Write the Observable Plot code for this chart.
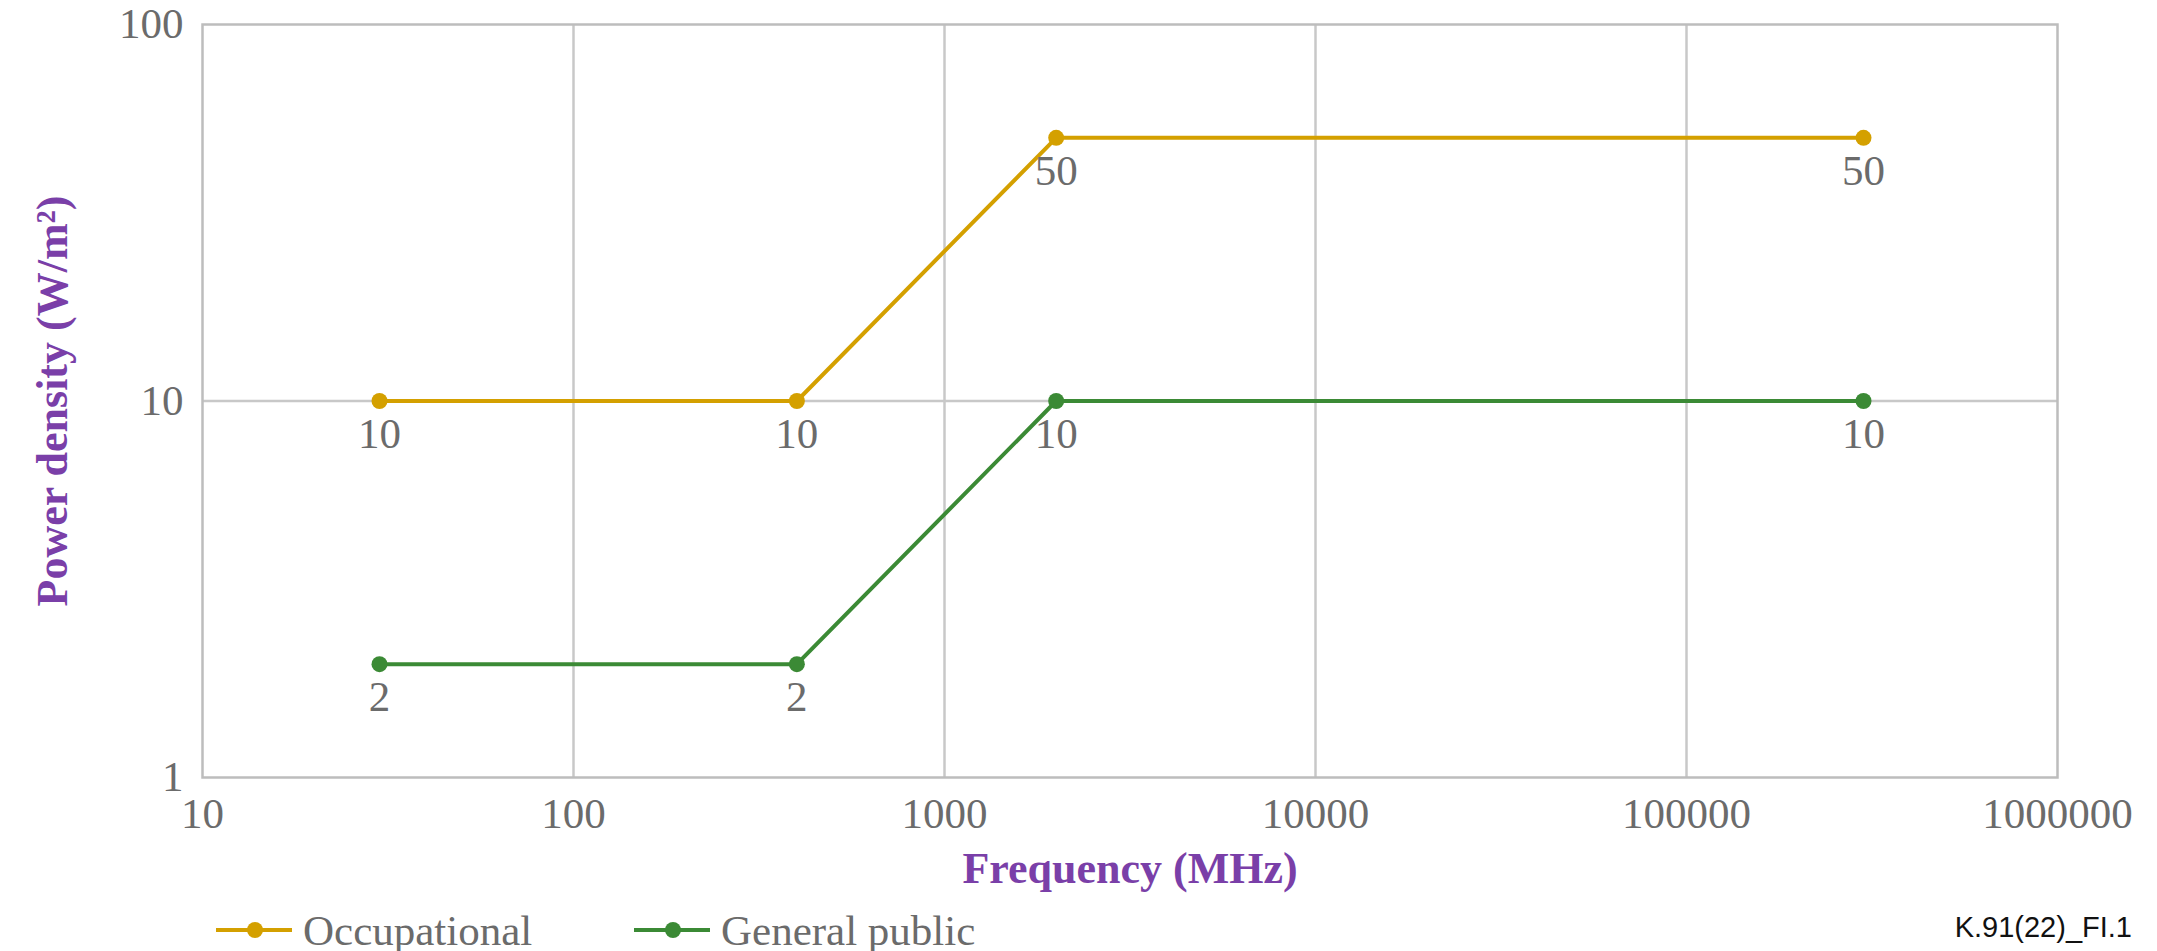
<!DOCTYPE html>
<html><head><meta charset="utf-8">
<script src="https://cdn.jsdelivr.net/npm/d3@7"></script>
<script src="https://cdn.jsdelivr.net/npm/@observablehq/plot@0.6"></script>
<style>
body{margin:0;background:#fff;width:2157px;height:951px;position:relative;overflow:hidden;font-family:"Liberation Serif",serif}
#chart{position:absolute;left:0;top:0}
.item{position:absolute;top:906px;height:48px;display:flex;align-items:center;font-size:43px;color:#6b6b6b;white-space:nowrap}
.item svg{margin-right:11px}
#caption{position:absolute;right:25px;top:910px;font-family:"Liberation Sans",Arial,sans-serif;font-size:29px;line-height:34px;color:#111}
</style>
</head><body>
<div id="chart"></div>
<div id="legend"></div>
<div id="caption">K.91(22)_FI.1</div>
<script>
const freqs = [30, 400, 2000, 300000];
const occupational = [10, 10, 50, 50];
const generalPublic = [2, 2, 10, 10];
const seriesNames = ["Occupational", "General public"];
const seriesColors = ["#d4a000", "#3b8a35"];
const xTicks = [10, 100, 1000, 10000, 100000, 1000000];
const yTicks = [1, 10, 100];
const xTitle = "Frequency (MHz)";
const yTitle = "Power density (W/m²)";
const textGray = "#6b6b6b";
const purple = "#7a3fa8";

const rows = [];
[occupational, generalPublic].forEach((vals, i) => {
  vals.forEach((v, j) => rows.push({s: seriesNames[i], f: freqs[j], v}));
});

const chart = Plot.plot({
  width: 2157, height: 895,
  marginLeft: 202, marginRight: 100, marginTop: 24, marginBottom: 118,
  x: {type: "log", domain: [10, 1e6]},
  y: {type: "log", domain: [1, 100]},
  color: {domain: seriesNames, range: seriesColors},
  style: {fontFamily: "Liberation Serif, serif", fontSize: "43px", background: "white"},
  marks: [
    Plot.gridX(xTicks.slice(1, -1), {stroke: "#c8c8c8", strokeOpacity: 1, strokeWidth: 2.5}),
    Plot.gridY(yTicks.slice(1, -1), {stroke: "#c8c8c8", strokeOpacity: 1, strokeWidth: 2.5}),
    Plot.frame({stroke: "#bdbdbd", strokeWidth: 2.5}),
    Plot.axisX(xTicks, {tickSize: 0, tickPadding: 20, tickFormat: d => String(d), color: textGray, fontSize: 43, label: null}),
    Plot.axisY(yTicks, {tickSize: 0, tickPadding: 19, tickFormat: d => String(d), color: textGray, fontSize: 43, label: null}),
    Plot.line(rows, {x: "f", y: "v", z: "s", stroke: "s", strokeWidth: 4}),
    Plot.dot(rows, {x: "f", y: "v", fill: "s", r: 8}),
    Plot.text(rows, {x: "f", y: "v", text: d => String(d.v), dy: 33, fill: textGray, fontSize: 43}),
    Plot.text([xTitle], {frameAnchor: "bottom", lineAnchor: "middle", dy: 91, fill: purple, fontWeight: "bold", fontSize: 44}),
    Plot.text([yTitle], {frameAnchor: "left", textAnchor: "middle", lineAnchor: "middle", dx: -150, rotate: -90, fill: purple, fontWeight: "bold", fontSize: 44})
  ]
});
document.getElementById("chart").appendChild(chart);

const legendLefts = [216, 634];
const legend = document.getElementById("legend");
seriesNames.forEach((name, i) => {
  const div = document.createElement("div");
  div.className = "item";
  div.style.left = legendLefts[i] + "px";
  div.innerHTML = `<svg width="76" height="20"><line x1="0" x2="76" y1="10" y2="10" stroke="${seriesColors[i]}" stroke-width="4"/><circle cx="39" cy="10" r="8" fill="${seriesColors[i]}"/></svg><span>${name}</span>`;
  legend.appendChild(div);
});
</script>
</body></html>
